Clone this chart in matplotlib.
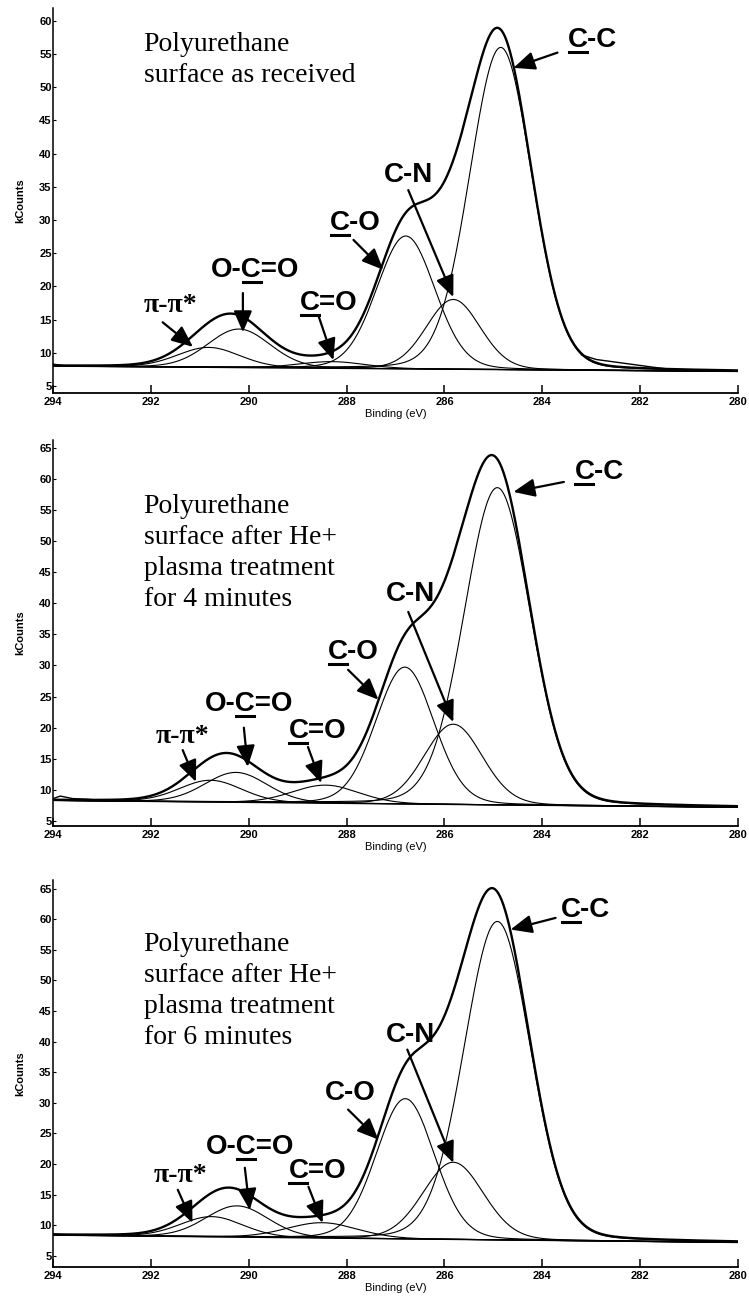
"""
XPS C1s spectra of a polyurethane surface, three treatments.
Peak fits (pseudo-Voigt components on a linear background) redrawn from the figure.
"""

import numpy as np
import matplotlib
matplotlib.use("Agg")
import matplotlib.pyplot as plt
from matplotlib.lines import Line2D

# ---- data --------------------------------------------------------------
# component order: C-C, C-N, C-O, C=O, O-C=O, pi-pi*
p1_center = [284.85, 285.82, 286.79, 288.30, 290.20, 290.82]
p1_height = [48.5, 10.5, 20.0, 1.0, 5.8, 3.0]
p1_fwhm = [1.50, 1.30, 1.40, 1.60, 1.50, 1.50]
p1_base = [8.0, 7.2]          # background at 294 eV and at 280 eV
p1_raw_x = [294.0, 293.7, 293.4]
p1_raw_y = [8.3, 8.0, 8.0]
p1_tail_x = [283.2, 282.9, 282.5, 282.1, 281.7, 281.3, 280.9]
p1_tail_y = [9.7, 9.0, 8.6, 8.2, 7.8, 7.45, 7.3]

p2_center = [284.92, 285.82, 286.81, 288.43, 290.26, 290.78]
p2_height = [51.0, 12.9, 22.0, 2.9, 4.8, 3.5]
p2_fwhm = [1.60, 1.40, 1.40, 1.60, 1.50, 1.50]
p2_base = [8.3, 7.2]
p2_raw_x = [294.0, 293.85, 293.6, 293.3, 293.0, 292.6]
p2_raw_y = [8.6, 9.0, 8.6, 8.5, 8.3, 8.3]

p3_center = [284.92, 285.82, 286.80, 288.50, 290.24, 290.76]
p3_height = [52.0, 12.6, 22.9, 2.5, 5.1, 3.3]
p3_fwhm = [1.60, 1.45, 1.40, 1.70, 1.50, 1.50]
p3_base = [8.4, 7.2]
p3_raw_x = [294.0, 293.6, 293.2]
p3_raw_y = [8.6, 8.4, 8.35]

titles = [
    "Polyurethane\nsurface as received",
    "Polyurethane\nsurface after He+\nplasma treatment\nfor 4 minutes",
    "Polyurethane\nsurface after He+\nplasma treatment\nfor 6 minutes",
]
x_ticks = [294, 292, 290, 288, 286, 284, 282, 280]

GL_MIX = 0.1


def peak(x, c, h, f):
    t = 4.0 * (x - c) ** 2 / f ** 2
    return h * ((1 - GL_MIX) * np.exp(-np.log(2) * t) + GL_MIX / (1 + t))


# ---- layout ---------------------------------------------------------------
panels = [
    dict(center=p1_center, height=p1_height, fwhm=p1_fwhm, base=p1_base,
         raw=[(p1_raw_x, p1_raw_y), (p1_tail_x, p1_tail_y)],
         rect=[0.0708, 0.6986, 0.9146, 0.2952], ylim=(3.95, 61.9), ymax=60,
         title_xy=(292.15, 58.3),
         labels=[
             ("C-C", 0, (282.97, 57.1), (283.69, 55.2), (284.59, 52.9)),
             ("C-N", None, (286.74, 36.8), (286.74, 34.5), (285.82, 18.4)),
             ("C-O", 0, (287.82, 29.5), (287.86, 27.0), (287.25, 22.5)),
             ("C=O", 0, (288.36, 17.5), (288.58, 15.7), (288.27, 8.9)),
             ("O-C=O", 2, (289.87, 22.5), (290.12, 19.0), (290.12, 13.1)),
             ("π-π*", None, (291.61, 17.2), (291.76, 14.6), (291.14, 10.9)),
         ]),
    dict(center=p2_center, height=p2_height, fwhm=p2_fwhm, base=p2_base,
         raw=[(p2_raw_x, p2_raw_y)],
         rect=[0.0708, 0.3666, 0.9146, 0.2960], ylim=(4.2, 66.25), ymax=65,
         title_xy=(292.15, 57.6),
         labels=[
             ("C-C", 0, (282.84, 61.1), (283.56, 59.5), (284.59, 57.9)),
             ("C-N", None, (286.70, 41.5), (286.74, 38.6), (285.82, 20.9)),
             ("C-O", 0, (287.86, 32.2), (287.97, 29.3), (287.35, 24.5)),
             ("C=O", 0, (288.60, 19.5), (288.79, 16.9), (288.52, 11.1)),
             ("O-C=O", 2, (290.00, 23.8), (290.10, 20.0), (290.02, 13.7)),
             ("π-π*", None, (291.35, 18.5), (291.35, 16.4), (291.08, 11.3)),
         ]),
    dict(center=p3_center, height=p3_height, fwhm=p3_fwhm, base=p3_base,
         raw=[(p3_raw_x, p3_raw_y)],
         rect=[0.0708, 0.0284, 0.9146, 0.2968], ylim=(3.2, 66.4), ymax=65,
         title_xy=(292.15, 57.9),
         labels=[
             ("C-C", 0, (283.11, 61.5), (283.73, 60.2), (284.65, 58.3)),
             ("C-N", None, (286.70, 41.1), (286.76, 38.7), (285.82, 20.2)),
             ("C-O", None, (287.93, 31.6), (287.97, 28.9), (287.35, 24.0)),
             ("C=O", 0, (288.60, 18.9), (288.78, 16.3), (288.49, 10.4)),
             ("O-C=O", 2, (289.98, 22.8), (290.08, 19.4), (289.98, 12.5)),
             ("π-π*", None, (291.39, 18.1), (291.45, 15.8), (291.15, 10.4)),
         ]),
]

fig = plt.figure(figsize=(7.49, 13.04), dpi=100)
x = np.linspace(280, 294, 1401)
underlines = []

for i, p in enumerate(panels):
    ax = fig.add_axes(p["rect"])
    base = np.interp(x, [280, 294], [p["base"][1], p["base"][0]])
    total = base.copy()
    for c, h, f in zip(p["center"], p["height"], p["fwhm"]):
        comp = peak(x, c, h, f)
        total += comp
        ax.plot(x, base + comp, color="k", lw=0.8)
    ax.plot(x, base, color="k", lw=1.0)
    ax.plot(x, total, color="k", lw=1.7)
    for rx, ry in p["raw"]:
        ax.plot(rx, ry, color="k", lw=1.0)

    ax.set_xlim(294, 280)
    ax.set_ylim(*p["ylim"])
    for s in ["top", "right"]:
        ax.spines[s].set_visible(False)
    ax.spines["left"].set_linewidth(1.1)
    ax.spines["bottom"].set_linewidth(1.3)
    ax.set_xticks(x_ticks)
    ax.set_yticks(range(5, p["ymax"] + 1, 5))
    ax.tick_params(axis="x", direction="in", length=6, width=1.1, pad=3, labelsize=8)
    ax.tick_params(axis="y", direction="in", length=2, width=0.8, pad=1, labelsize=8)
    for lbl in ax.get_xticklabels() + ax.get_yticklabels():
        lbl.set_fontfamily("Liberation Sans")
        lbl.set_fontweight("bold")
    ax.set_xlabel("Binding (eV)", fontsize=8, family="Liberation Sans", labelpad=1)
    ax.set_ylabel("kCounts", fontsize=8, family="Liberation Sans",
                  fontweight="bold", labelpad=10)

    ax.text(p["title_xy"][0], p["title_xy"][1], titles[i], ha="left", va="top",
            fontsize=20, family="Liberation Serif", linespacing=1.32)

    for text, ul, txy, tail, head in p["labels"]:
        fam = "Liberation Serif" if text.startswith("π") else "Liberation Sans"
        t = ax.text(txy[0], txy[1], text, ha="center", va="center",
                    fontsize=20, fontweight="bold", family=fam)
        ax.annotate("", xy=head, xytext=tail,
                    arrowprops=dict(arrowstyle="-|>,head_length=0.65,head_width=0.28",
                                    mutation_scale=20, lw=1.6, color="k",
                                    shrinkA=0, shrinkB=0))
        if ul is not None:
            underlines.append((t, ul))

# underline the carbon the label refers to
fig.canvas.draw()
renderer = fig.canvas.get_renderer()
to_fig = fig.transFigure.inverted()
for t, idx in underlines:
    s = t.get_text()
    fp = t.get_fontproperties()
    bb = t.get_window_extent(renderer)
    w0 = renderer.get_text_width_height_descent(s[:idx], fp, ismath=False)[0] if idx else 0
    w1 = renderer.get_text_width_height_descent(s[:idx + 1], fp, ismath=False)[0]
    y = bb.y0 + 1
    (fx0, fy), (fx1, _) = to_fig.transform([(bb.x0 + w0 + 1, y), (bb.x0 + w1 - 1, y)])
    fig.add_artist(Line2D([fx0, fx1], [fy, fy], color="k", lw=2.2,
                          transform=fig.transFigure))

fig.savefig("out.png", dpi=100)
